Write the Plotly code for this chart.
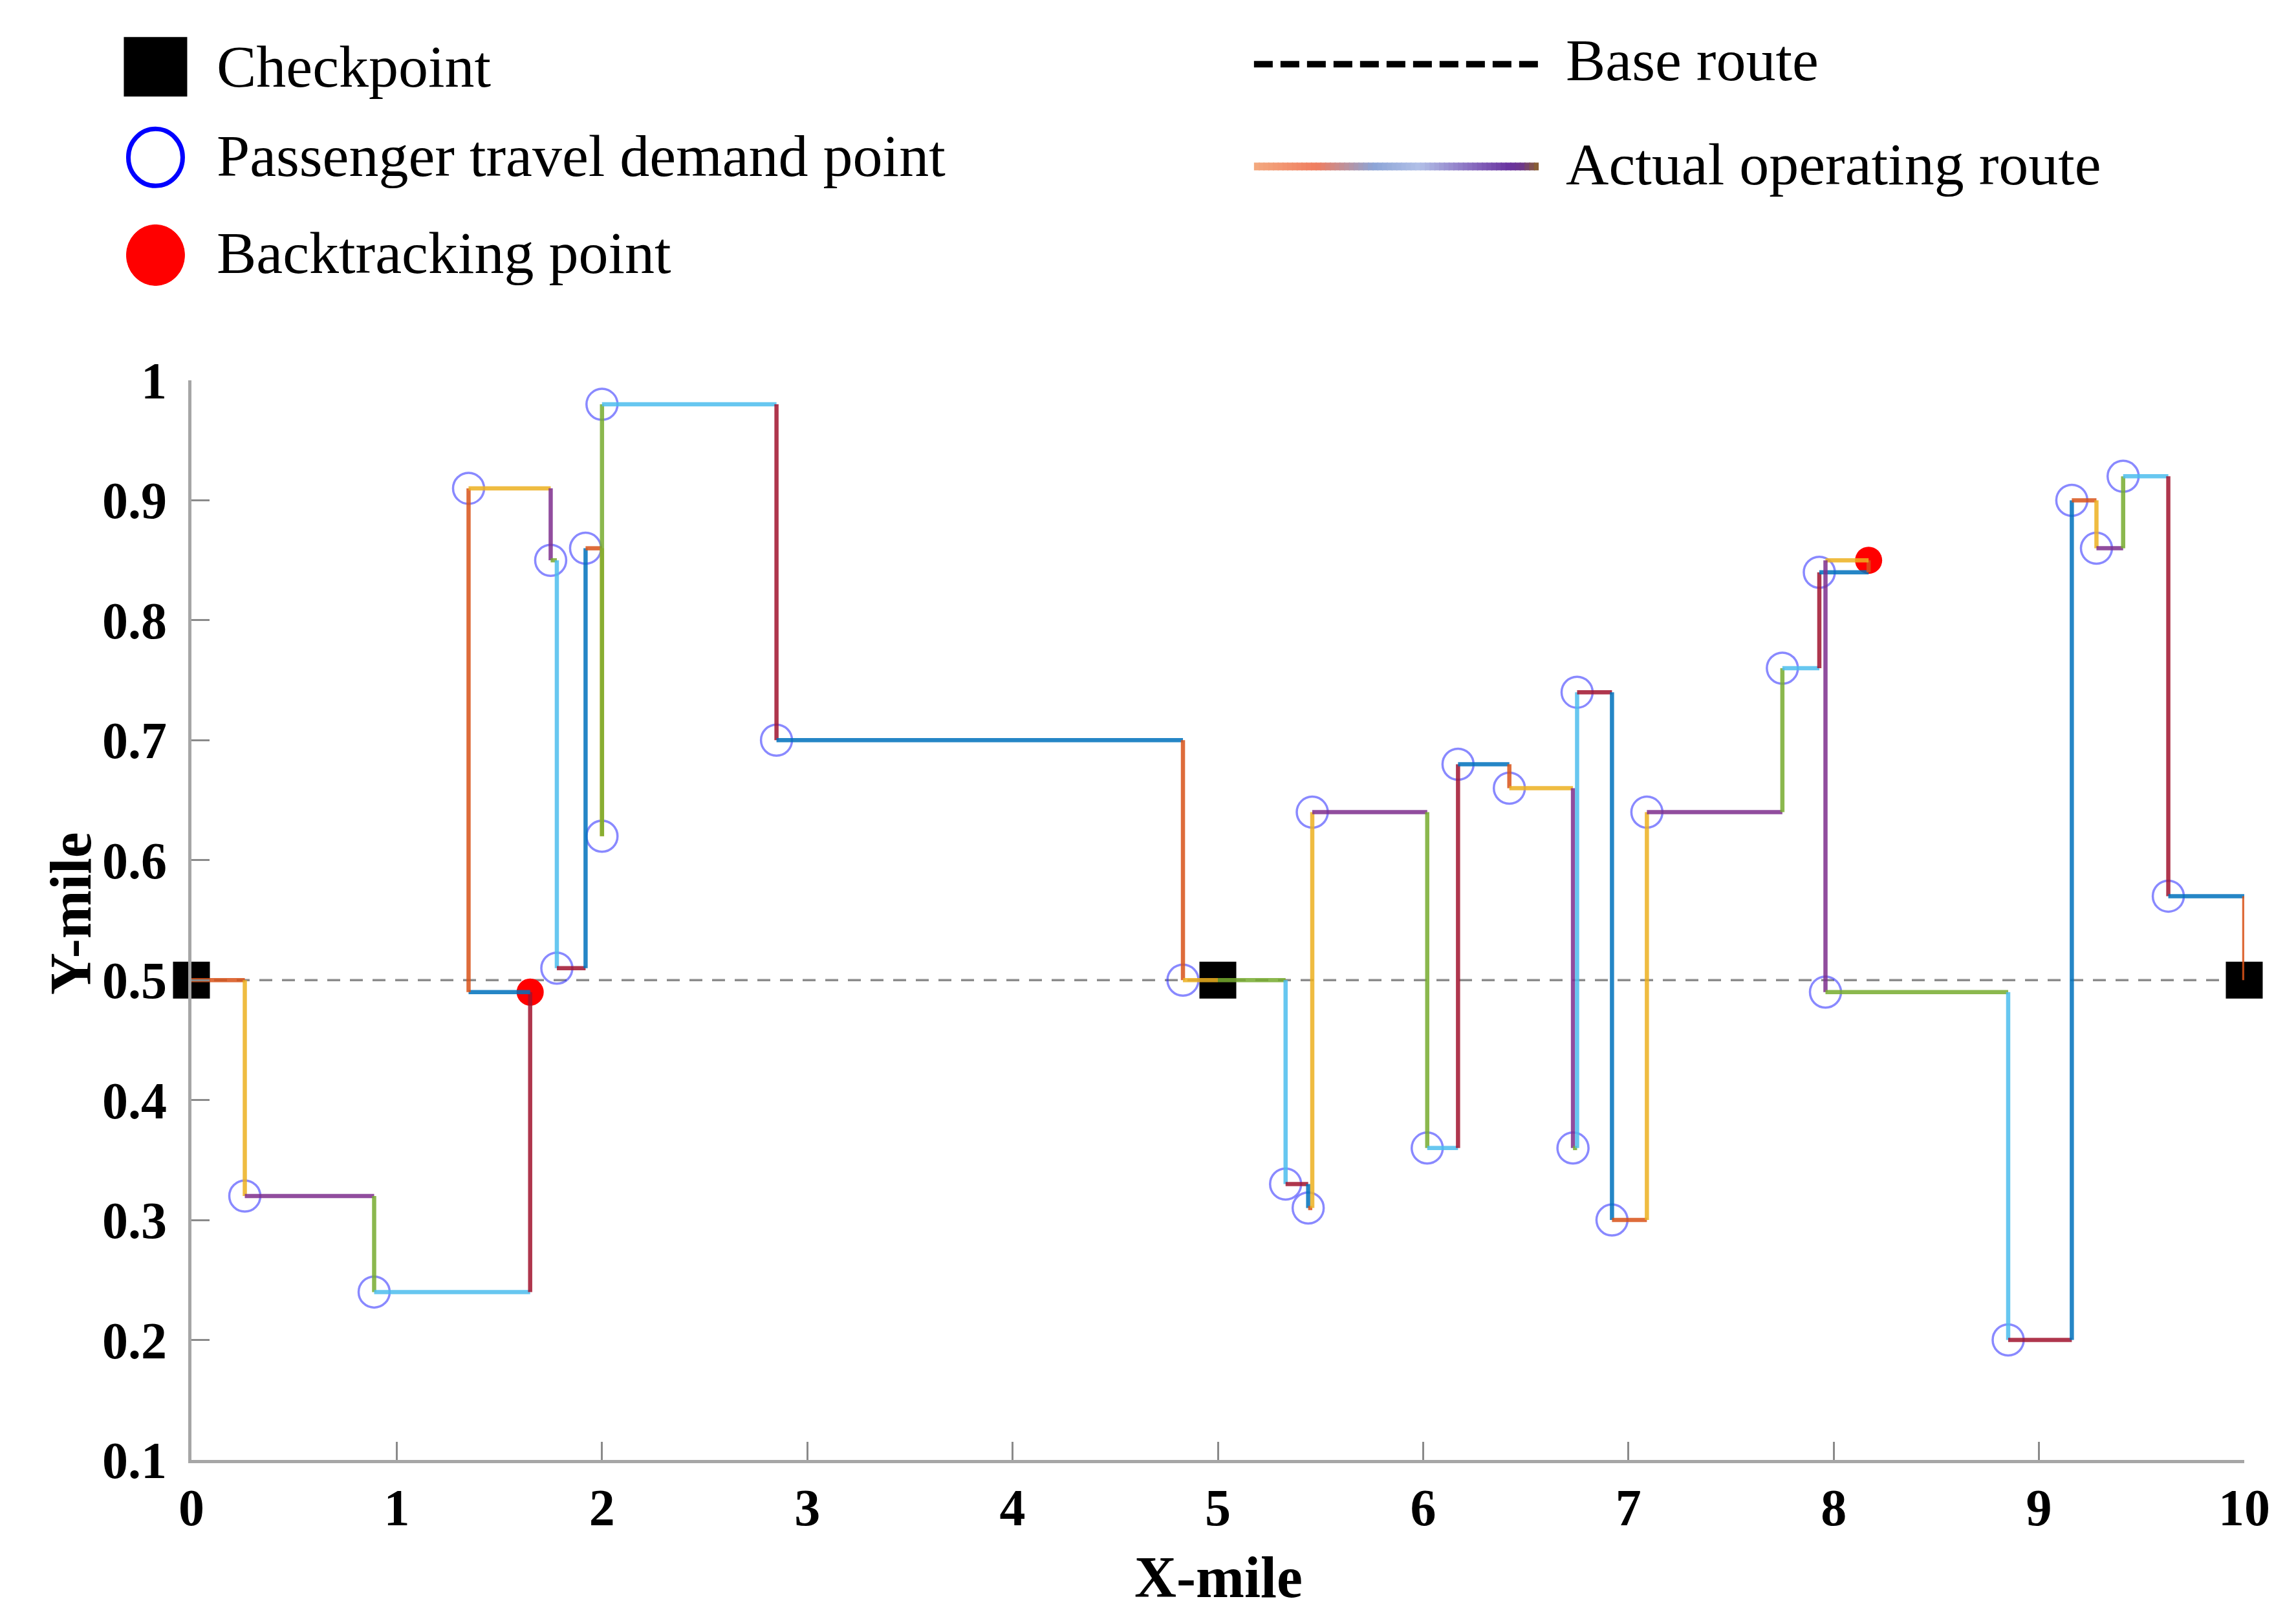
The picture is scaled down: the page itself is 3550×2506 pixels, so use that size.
import plotly.graph_objects as go

# ---------------- data ----------------
# waypoints of the actual operating route (visited in order)
route_x = [0.0, 0.26, 0.89, 1.65, 1.35, 1.75, 1.78, 1.92, 2.0, 2.0, 2.85, 4.83, 5.0,
           5.33, 5.44, 5.46, 6.02, 6.17, 6.42, 6.73, 6.75, 6.92, 7.09, 7.75, 7.93,
           8.17, 7.96, 8.85, 9.16, 9.28, 9.41, 9.63, 10.0]
route_y = [0.50, 0.32, 0.24, 0.49, 0.91, 0.85, 0.51, 0.86, 0.62, 0.98, 0.70, 0.50, 0.50,
           0.33, 0.31, 0.64, 0.36, 0.68, 0.66, 0.36, 0.74, 0.30, 0.64, 0.76, 0.84,
           0.85, 0.49, 0.20, 0.90, 0.86, 0.92, 0.57, 0.50]
# C = checkpoint, D = passenger travel demand point, B = backtracking point
route_kind = ["C", "D", "D", "B", "D", "D", "D", "D", "D", "D", "D", "D", "C",
              "D", "D", "D", "D", "D", "D", "D", "D", "D", "D", "D", "D",
              "B", "D", "D", "D", "D", "D", "D", "C"]
base_x = [0.0, 10.0]
base_y = [0.5, 0.5]
x_ticks = [0, 1, 2, 3, 4, 5, 6, 7, 8, 9, 10]
y_ticks = [0.1, 0.2, 0.3, 0.4, 0.5, 0.6, 0.7, 0.8, 0.9, 1.0]
y_ticktext = ["0.1", "0.2", "0.3", "0.4", "0.5", "0.6", "0.7", "0.8", "0.9", "1"]
legend_labels = ["Checkpoint", "Passenger travel demand point", "Backtracking point",
                 "Base route", "Actual operating route"]

# MATLAB-like colour order
leg_colors = ["#0072BD", "#D95319", "#EDB120", "#7E2F8E", "#77AC30", "#4DBEEE", "#A2142F"]

FONT = "Liberation Serif"
fig = go.Figure()

# base route
fig.add_trace(go.Scatter(x=base_x, y=base_y, mode="lines",
                         line=dict(color="#8C8C8C", width=3.5, dash="20px,15px"),
                         hoverinfo="skip", cliponaxis=False))

def pick(kind):
    xs = [x for x, k in zip(route_x, route_kind) if k == kind]
    ys = [y for y, k in zip(route_y, route_kind) if k == kind]
    return xs, ys

cx, cy = pick("C")
fig.add_trace(go.Scatter(x=cx, y=cy, mode="markers",
                         marker=dict(symbol="square", size=57, color="black"),
                         cliponaxis=False))
bx, by = pick("B")
fig.add_trace(go.Scatter(x=bx, y=by, mode="markers",
                         marker=dict(symbol="circle", size=42, color="#FF0000"),
                         cliponaxis=False))
dx, dy = pick("D")
fig.add_trace(go.Scatter(x=dx, y=dy, mode="markers",
                         marker=dict(symbol="circle-open", size=48,
                                     color="rgba(40,40,255,0.55)",
                                     line=dict(width=3.5, color="rgba(40,40,255,0.55)")),
                         cliponaxis=False))

# route legs: horizontal then vertical, colours cycling
leg = 0
for i in range(len(route_x) - 1):
    x0, y0 = route_x[i], route_y[i]
    x1, y1 = route_x[i + 1], route_y[i + 1]
    for (xa, ya, xb, yb) in [(x0, y0, x1, y0), (x1, y0, x1, y1)]:
        col = leg_colors[(1 + leg) % 7]
        fig.add_trace(go.Scatter(x=[xa, xb], y=[ya, yb], mode="lines",
                                 line=dict(color=col, width=6.5),
                                 opacity=0.85, hoverinfo="skip", cliponaxis=False))
        leg += 1

# ---------------- custom legend ----------------
dy_leg = 0.004
col1_x = -0.0175
col1_text = 0.0115
rows_y = [1.2864 + dy_leg, 1.2025 + dy_leg, 1.1120 + dy_leg]
fig.add_shape(type="rect", xref="paper", yref="paper", xsizemode="pixel", ysizemode="pixel",
              xanchor=col1_x, yanchor=rows_y[0], x0=-49, x1=49, y0=-46, y1=46,
              fillcolor="black", line_width=0)
fig.add_shape(type="circle", xref="paper", yref="paper", xsizemode="pixel", ysizemode="pixel",
              xanchor=col1_x, yanchor=rows_y[1], x0=-42, x1=42, y0=-44, y1=44,
              line=dict(color="#0000FF", width=7), fillcolor="rgba(0,0,0,0)")
fig.add_shape(type="circle", xref="paper", yref="paper", xsizemode="pixel", ysizemode="pixel",
              xanchor=col1_x, yanchor=rows_y[2], x0=-45, x1=45, y0=-47, y1=47,
              line=dict(color="#FF0000", width=1), fillcolor="#FF0000")
for lab, yy in zip(legend_labels[:3], [1.2864, 1.2037, 1.1138]):
    fig.add_annotation(x=col1_text, y=yy + dy_leg, xref="paper", yref="paper", text=lab,
                       showarrow=False, xanchor="left", yanchor="middle",
                       font=dict(family=FONT, size=92, color="black"))

col2_x0, col2_x1, col2_text = 0.5176, 0.6563, 0.6690
rows2_y = [1.2888 + dy_leg, 1.1941 + dy_leg]
fig.add_shape(type="line", xref="paper", yref="paper", x0=col2_x0, x1=col2_x1,
              y0=rows2_y[0], y1=rows2_y[0],
              line=dict(color="black", width=10, dash="29px,12px"))

# gradient legend line
stops = [(0.0, (244, 170, 128)), (0.22, (240, 125, 95)), (0.42, (140, 165, 215)),
         (0.58, (178, 192, 232)), (0.75, (140, 115, 195)), (0.90, (105, 50, 160)),
         (0.94, (110, 55, 140)), (1.0, (140, 100, 40))]

def grad(t):
    for (t0, c0), (t1, c1) in zip(stops[:-1], stops[1:]):
        if t0 <= t <= t1:
            f = (t - t0) / (t1 - t0) if t1 > t0 else 0
            return "rgb(%d,%d,%d)" % tuple(int(a + (b - a) * f) for a, b in zip(c0, c1))
    return "rgb(%d,%d,%d)" % stops[-1][1]

N = 60
for k in range(N):
    xa = col2_x0 + (col2_x1 - col2_x0) * k / N
    xb = col2_x0 + (col2_x1 - col2_x0) * (k + 1) / N + (0.0005 if k < N - 1 else 0)
    fig.add_shape(type="rect", xref="paper", yref="paper", ysizemode="pixel",
                  yanchor=rows2_y[1], x0=xa, x1=xb, y0=-6, y1=6,
                  fillcolor=grad((k + 0.5) / N), line_width=0)
for lab, yy in zip(legend_labels[3:], [1.2924, 1.1959]):
    fig.add_annotation(x=col2_text, y=yy + dy_leg, xref="paper", yref="paper", text=lab,
                       showarrow=False, xanchor="left", yanchor="middle",
                       font=dict(family=FONT, size=92, color="black"))

# axis titles
fig.add_annotation(x=0.5003, y=-0.1085, xref="paper", yref="paper", text="<b>X-mile</b>",
                   showarrow=False, xanchor="center", yanchor="middle",
                   font=dict(family=FONT, size=90, color="black"))
fig.add_annotation(x=-0.0586, y=0.5063, xref="paper", yref="paper", text="<b>Y-mile</b>",
                   showarrow=False, xanchor="center", yanchor="middle", textangle=-90,
                   font=dict(family=FONT, size=90, color="black"))

tickfont = dict(family=FONT, size=80, color="black", weight="bold")
fig.update_layout(
    width=3550, height=2506, autosize=False,
    margin=dict(l=288, r=88, t=580, b=257),
    paper_bgcolor="white", plot_bgcolor="white",
    showlegend=False,
    xaxis=dict(range=[0, 10], tickvals=x_ticks, ticks="inside", ticklen=28,
               tickwidth=3, tickcolor="#8A8A8A", showline=True, linecolor="#A6A6A6",
               linewidth=5, showgrid=False, zeroline=False, tickfont=tickfont,
               ticklabelstandoff=0),
    yaxis=dict(range=[0.1, 1.0], tickvals=y_ticks, ticktext=y_ticktext, ticks="inside",
               ticklen=28, tickwidth=3, tickcolor="#8A8A8A", showline=True,
               linecolor="#A6A6A6", linewidth=5, showgrid=False, zeroline=False,
               tickfont=tickfont, ticklabelstandoff=17),
)

fig.write_html("out.html")
